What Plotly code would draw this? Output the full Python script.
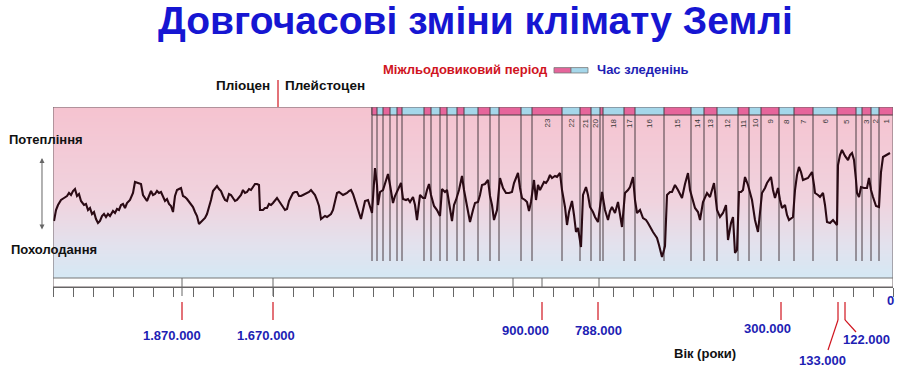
import plotly.graph_objects as go

# ---------------- data ----------------
# x: position along the time ruler (0 = oldest edge, 840 = present, one ruler division = 20)
# y: relative warmth index (higher = warmer)
curve_x = [1, 3, 5, 8, 11, 14, 16, 18, 20, 22, 24, 26, 28, 31, 33, 35, 37, 39, 41, 43, 45, 47, 49, 51, 53, 55, 57,
           60, 62, 64, 66, 68, 70, 72, 74, 77, 80, 82, 85, 88, 90, 92, 94, 96, 98, 100, 102, 104, 106, 108, 110, 112,
           114, 116, 118, 120, 122, 124, 126, 128, 130, 132, 134, 136, 138, 140, 142, 144, 146, 148, 150, 152, 154,
           156, 158, 160, 162, 164, 166, 168, 170, 172, 174, 176, 178, 180, 182, 184, 186, 188, 190, 192, 194, 196,
           198, 200, 202, 204, 206, 207, 210, 212, 214, 216, 218, 220, 222, 224, 226, 228, 230, 232, 234, 236, 238,
           240, 242, 244, 246, 248, 250, 252, 254, 256, 258, 260, 262, 264, 266, 268, 270, 272, 274, 276, 278, 280,
           282, 284, 286, 288, 290, 292, 294, 296, 298, 300, 302, 304, 306, 308, 310, 312, 315, 317, 319, 322, 324,
           325, 327, 330, 333, 335, 337, 340, 342, 345, 348, 350, 353, 355, 357, 360, 362, 364, 367, 370, 372, 374,
           376, 378, 381, 384, 387, 389, 392, 394, 397, 399, 401, 403, 406, 409, 411, 413, 415, 417, 420, 422, 425,
           427, 429, 432, 435, 437, 439, 441, 444, 447, 450, 453, 456, 459, 461, 463, 465, 467, 469, 472, 474, 476,
           478, 481, 483, 485, 487, 489, 491, 493, 495, 497, 499, 502, 504, 507, 509, 512, 514, 516, 519, 521, 523,
           525, 528, 530, 533, 535, 537, 540, 542, 545, 549, 552, 555, 557, 559, 562, 565, 569, 572, 575, 577, 580,
           582, 584, 587, 590, 593, 595, 597, 600, 602, 604, 606, 607, 609, 611, 612, 614, 617, 619, 622, 625, 627,
           629, 632, 635, 637, 639, 642, 645, 647, 650, 654, 657, 659, 661, 664, 667, 670, 673, 675, 678, 680, 682,
           684, 686, 688, 690, 692, 695, 699, 702, 705, 707, 709, 712, 714, 718, 720, 722, 725, 727, 729, 732, 734,
           736, 738, 740, 742, 744, 746, 748, 750, 753, 755, 757, 759, 761, 762, 765, 767, 770, 772, 774, 777, 780,
           782, 784, 785, 787, 789, 792, 795, 797, 799, 801, 803, 804, 806, 808, 811, 814, 816, 818, 820, 823, 826,
           827, 828, 830, 833, 837]
curve_y = [57, 68, 73, 78, 80, 82, 85, 83, 87, 89, 82, 84, 77, 73, 74, 68, 70, 64, 66, 59, 55, 57, 62, 64, 61, 64, 62,
           67, 65, 69, 68, 73, 74, 70, 75, 78, 85, 96, 95, 94, 83, 80, 77, 82, 87, 83, 84, 87, 85, 86, 81, 77,
           79, 74, 72, 66, 82, 88, 89, 90, 82, 81, 79, 76, 74, 71, 66, 62, 54, 56, 59, 60, 64,
           70, 78, 87, 90, 92, 89, 87, 82, 78, 77, 84, 83, 80, 77, 78, 81, 83, 88, 85, 86, 89,
           88, 91, 94, 94, 93, 68, 68, 70, 70, 74, 73, 75, 78, 80, 77, 74, 71, 68, 69, 77, 81,
           85, 86, 86, 82, 82, 83, 84, 85, 86, 88, 86, 83, 78, 72, 59, 61, 62, 61, 63, 64, 68,
           78, 85, 86, 84, 83, 84, 85, 87, 88, 84, 78, 71, 64, 59, 68, 77, 78, 72, 65, 110, 93,
           73, 86, 88, 98, 104, 93, 75, 82, 88, 95, 79, 78, 79, 76, 81, 73, 58, 83, 80, 80, 88,
           94, 83, 72, 68, 62, 89, 86, 88, 68, 57, 73, 78, 88, 102, 88, 78, 66, 56, 68, 75, 76,
           83, 93, 94, 98, 82, 73, 58, 68, 100, 90, 85, 85, 86, 95, 100, 105, 90, 80, 78, 76, 67,
           76, 98, 78, 93, 88, 92, 96, 95, 98, 103, 100, 102, 101, 105, 88, 71, 53, 66, 77, 63, 46,
           50, 31, 83, 91, 83, 71, 66, 61, 56, 86, 68, 58, 67, 71, 65, 76, 51, 85, 88, 91, 101,
           78, 65, 68, 60, 58, 55, 51, 46, 43, 40, 33, 28, 21, 28, 32, 83, 86, 86, 93, 88, 83,
           80, 94, 105, 88, 81, 70, 66, 58, 76, 85, 81, 88, 95, 68, 61, 65, 73, 38, 55, 61, 25,
           28, 86, 86, 88, 101, 93, 78, 58, 46, 63, 85, 90, 95, 101, 88, 80, 90, 78, 70, 73, 63,
           58, 60, 61, 88, 103, 111, 106, 98, 99, 100, 103, 106, 93, 85, 83, 81, 85, 73, 56, 55, 58,
           55, 53, 113, 123, 128, 122, 118, 123, 125, 118, 98, 85, 81, 91, 90, 90, 100, 88, 81, 72, 71,
           88, 106, 121, 123, 125]

# marine isotope stage boundaries (ruler positions) and stage numbers of the cells between them
stage_bounds = [319, 324, 330, 337, 344, 349, 371, 378, 387, 394, 404, 411, 425, 437, 446, 468, 479, 509, 527,
                538, 547, 550, 571, 582, 611, 638, 651, 664, 685, 696, 708, 726, 741, 760, 784, 803, 809, 818,
                826, 840]
stage_numbers = [""] * 16 + ["23", "22", "21", "20", "19", "18", "17", "16", "15", "14", "13", "12", "11", "10",
                             "9", "8", "7", "6", "5", "", "3", "2", "1"]

# labelled ages on the time ruler
age_labels = ["1.870.000", "1.670.000", "900.000", "788.000", "300.000", "133.000", "122.000"]
age_pos = [129, 220, 489, 545, 728, 785, 792]
band_dividers = [129, 220, 460, 489, 546]
epoch_boundary = 225

# ---------------- styling ----------------
FONT = "Liberation Sans, Arial, sans-serif"
PINK = "#e6659b"
BLUE = "#a5d7ea"
BLUE_TXT = "#1e1eb4"
RED = "#d0141e"
LINE = "#6e6266"

X0, X1 = 0, 840
Y_BOT, Y_TOP = 0, 171
STRIP_LO = 163
LINE_LO = 17

fig = go.Figure()

# gradient background (pink on top -> light blue at bottom)
n_rows = 114
edges = [Y_BOT + (Y_TOP - Y_BOT) * i / n_rows for i in range(n_rows + 1)]
fig.add_trace(go.Heatmap(
    x=[X0, X1], y=edges, z=[[i] for i in range(n_rows)],
    colorscale=[[0.0, "rgb(213,232,244)"], [0.18, "rgb(226,226,238)"], [0.45, "rgb(240,211,222)"],
                [1.0, "rgb(245,195,208)"]],
    showscale=False, hoverinfo="skip"))

# vertical stage lines
lx, ly = [], []
for b in stage_bounds[:-1]:
    lx += [b, b, None]
    ly += [LINE_LO, Y_TOP, None]
fig.add_trace(go.Scatter(x=lx, y=ly, mode="lines", line=dict(color="#4a3c42", width=1),
                         hoverinfo="skip", showlegend=False))

# temperature curve
fig.add_trace(go.Scatter(x=curve_x, y=curve_y, mode="lines", line=dict(color="#2a0a14", width=2.1),
                         hoverinfo="skip", showlegend=False))

shapes = []
annotations = []


def note(**kw):
    kw.setdefault("showarrow", False)
    kw.setdefault("xanchor", "center")
    kw.setdefault("yanchor", "middle")
    annotations.append(kw)


# strip of interglacial / glacial cells
for i in range(len(stage_bounds) - 1):
    a, b = stage_bounds[i], stage_bounds[i + 1]
    shapes.append(dict(type="rect", xref="x", yref="y", x0=a, x1=b, y0=STRIP_LO, y1=Y_TOP,
                       fillcolor=PINK if i % 2 == 0 else BLUE, line=dict(width=0), layer="above"))
    shapes.append(dict(type="line", xref="x", yref="y", x0=a, x1=a, y0=STRIP_LO, y1=Y_TOP,
                       line=dict(color="#4a3c42", width=1), layer="above"))
    lab = stage_numbers[i]
    if lab:
        narrow = (b - a) < 5
        note(x=(a + b) / 2, y=(Y_TOP + 4 if narrow else STRIP_LO - 2), xref="x", yref="y",
             text=lab, textangle=-90, yanchor="bottom" if narrow else "top",
             font=dict(family=FONT, size=8, color="#3a3a3a"))
shapes.append(dict(type="line", xref="x", yref="y", x0=stage_bounds[0], x1=X1, y0=STRIP_LO, y1=STRIP_LO,
                   line=dict(color="#4a3c42", width=1), layer="above"))

# frame and ruler band
shapes.append(dict(type="rect", xref="x", yref="y", x0=X0, x1=X1, y0=-9, y1=Y_TOP,
                   line=dict(color=LINE, width=1), layer="above"))
shapes.append(dict(type="line", xref="x", yref="y", x0=X0, x1=X1, y0=Y_BOT, y1=Y_BOT,
                   line=dict(color="#777777", width=1), layer="above"))
for d in band_dividers:
    long_tick = d in age_pos[:2]
    shapes.append(dict(type="line", xref="x", yref="paper", x0=d, x1=d,
                       y0=-0.05 if long_tick else 0.0, y1=0.05,
                       line=dict(color="#666666", width=1), layer="above"))

# red markers + labels for ages
label_y = [-0.272, -0.272, -0.239, -0.239, -0.228, -0.406, -0.294]
label_dx = [-10, -7, -17, 0, -14, -16, 21]
for k, (txt, p) in enumerate(zip(age_labels, age_pos)):
    shapes.append(dict(type="line", xref="x", yref="paper", x0=p, x1=p, y0=-0.083, y1=-0.183,
                       line=dict(color=RED, width=1.2)))
    note(x=p + label_dx[k], y=label_y[k], xref="x", yref="paper", text="<b>" + txt + "</b>",
         font=dict(family=FONT, size=13, color=BLUE_TXT))
# slanted leaders for the two close labels
shapes.append(dict(type="line", xref="x", yref="paper", x0=age_pos[5], x1=age_pos[5] - 10, y0=-0.183, y1=-0.35,
                   line=dict(color=RED, width=1.2)))
shapes.append(dict(type="line", xref="x", yref="paper", x0=age_pos[6], x1=age_pos[6] + 11, y0=-0.183, y1=-0.25,
                   line=dict(color=RED, width=1.2)))
note(x=X1 - 3, y=-0.076, xref="x", yref="paper", text="<b>0</b>",
     font=dict(family=FONT, size=13, color=BLUE_TXT))
note(x=652, y=-0.367, xref="x", yref="paper", text="<b>Вік (роки)</b>",
     font=dict(family=FONT, size=13, color="#111111"))

# epoch boundary
shapes.append(dict(type="line", xref="x", yref="paper", x0=epoch_boundary, x1=epoch_boundary, y0=1.0, y1=1.15,
                   line=dict(color=RED, width=1.2)))
note(x=0.2607, y=1.122, xref="paper", yref="paper", text="<b>Пліоцен</b>",
     xanchor="right", font=dict(family=FONT, size=13.5, color="#111111"))
note(x=0.2738, y=1.122, xref="paper", yref="paper", text="<b>Плейстоцен</b>",
     xanchor="left", font=dict(family=FONT, size=13.5, color="#111111"))

# legend
note(x=0.5917, y=1.206, xref="paper", yref="paper", text="<b>Міжльодовиковий період</b>",
     xanchor="right", font=dict(family=FONT, size=13, color=RED))
shapes.append(dict(type="rect", xref="paper", yref="paper", x0=0.5964, x1=0.6167, y0=1.189, y1=1.219,
                   fillcolor=PINK, line=dict(color="#777777", width=0.8)))
shapes.append(dict(type="rect", xref="paper", yref="paper", x0=0.6167, x1=0.6369, y0=1.189, y1=1.219,
                   fillcolor=BLUE, line=dict(color="#777777", width=0.8)))
note(x=0.6452, y=1.206, xref="paper", yref="paper", text="<b>Час зледенінь</b>",
     xanchor="left", font=dict(family=FONT, size=13, color=BLUE_TXT))

# title
note(x=0.5024, y=1.478, xref="paper", yref="paper", text="<b>Довгочасові зміни клімату Землі</b>",
     font=dict(family=FONT, size=39, color="#1616d2"))

# warming / cooling
note(x=-0.055, y=0.822, xref="paper", yref="paper", text="<b>Потепління</b>",
     xanchor="left", font=dict(family=FONT, size=13, color="#111111"))
note(x=-0.052, y=0.21, xref="paper", yref="paper", text="<b>Похолодання</b>",
     xanchor="left", font=dict(family=FONT, size=13, color="#111111"))
annotations.append(dict(x=-0.0131, y=0.717, xref="paper", yref="paper", ax=0, ay=73, text="", showarrow=True,
                        arrowhead=2, startarrowhead=2, arrowside="end+start", arrowsize=1, arrowwidth=1,
                        arrowcolor="#666666"))

fig.update_layout(
    width=900, height=369,
    margin=dict(l=53, r=7, t=107, b=82),
    paper_bgcolor="white", plot_bgcolor="white",
    showlegend=False,
    shapes=shapes, annotations=annotations,
    xaxis=dict(range=[X0, X1], showgrid=False, zeroline=False, showline=True, linecolor="#666666",
               ticks="outside", ticklen=9, tickcolor="#666666", tick0=0, dtick=20, showticklabels=False,
               fixedrange=True),
    yaxis=dict(range=[-9, Y_TOP], visible=False, fixedrange=True),
)

fig.write_html("out.html", config={"displayModeBar": False},
               post_script="document.body.style.margin='0';document.body.style.overflow='hidden';")
